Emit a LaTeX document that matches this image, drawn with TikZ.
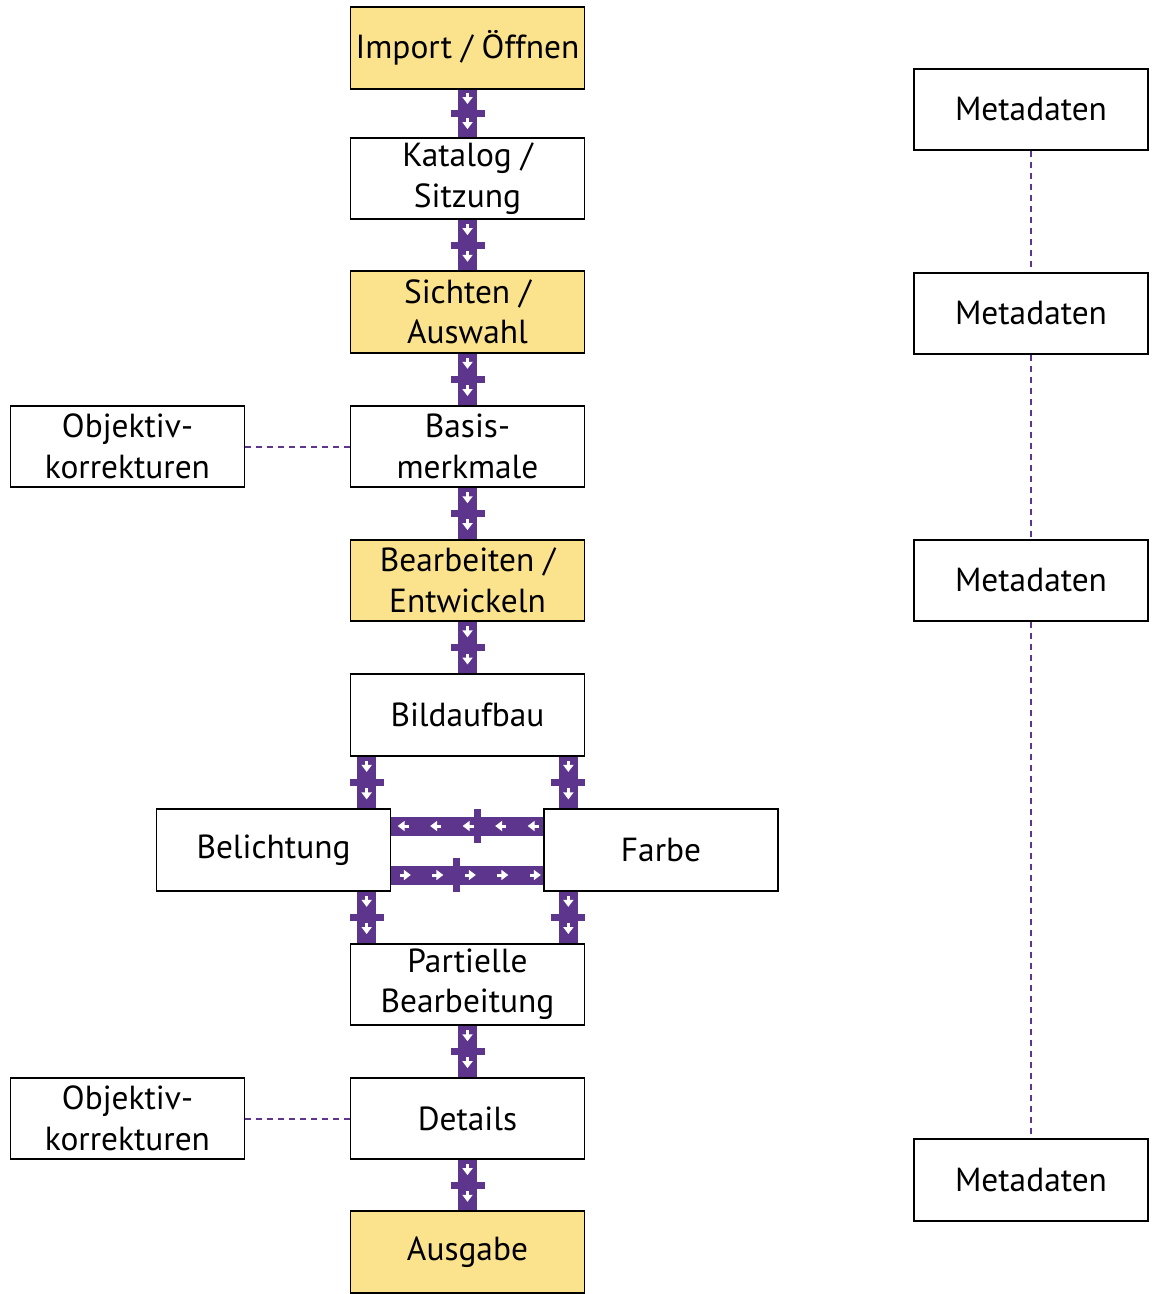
\documentclass[tikz,border=0pt]{standalone}
\usepackage{fontspec}
\setmainfont{PT Sans}
\usetikzlibrary{arrows.meta,decorations.markings}
\definecolor{flowpurple}{RGB}{94,53,140}
\definecolor{flowyellow}{RGB}{251,227,142}
\newcommand{\pipebar}{\fill[flowpurple] (-0.07cm,-0.34cm) rectangle (0.07cm,0.34cm);}
\newcommand{\flowtip}{\draw[white, line width=0.06cm, -{Triangle[length=0.14cm,width=0.2cm]}] (-0.11cm,0cm) -- (0.11cm,0cm);}
\tikzset{
  stepbox/.style={draw=black, line width=0.035cm, fill=white, minimum width=4.68cm, minimum height=1.63cm,
    align=center, inner sep=2pt, font=\fontsize{19}{23}\selectfont},
  mainbox/.style={stepbox, fill=flowyellow},
  pipe/.style={draw=flowpurple, line width=0.38cm,
    postaction={decorate, decoration={markings, mark=at position #1 with {\pipebar}}}},
  vpipe/.style={pipe=0.5,
    postaction={decorate, decoration={markings, mark=at position 0.19 with {\flowtip}, mark=at position 0.72 with {\flowtip}}}},
  hpipe/.style={pipe=1.31cm,
    postaction={decorate, decoration={markings, mark=between positions #1 and 2.95cm step 0.65cm with {\flowtip}}}},
  metaline/.style={draw=flowpurple, line width=0.04cm, dash pattern=on 0.12cm off 0.1cm},
}
\begin{document}
\begin{tikzpicture}[x=0.02cm, y=-0.02cm]
  \useasboundingbox (0,0) rectangle (1156,1294);
  \node[mainbox] (imp)   at (467.5,48)    {Import / Öffnen};
  \node[stepbox] (kat)   at (467.5,178.5) {Katalog /\\Sitzung};
  \node[mainbox] (sicht) at (467.5,312)   {Sichten /\\Auswahl};
  \node[stepbox] (basis) at (467.5,446.5) {Basis-\\merkmale};
  \node[mainbox] (bearb) at (467.5,580.5) {Bearbeiten /\\Entwickeln};
  \node[stepbox] (bild)  at (467.5,715)   {Bildaufbau};
  \node[stepbox] (bel)   at (273.5,850)   {Belichtung};
  \node[stepbox] (far)   at (661,850)     {Farbe};
  \node[stepbox] (part)  at (467.5,984.5) {Partielle\\Bearbeitung};
  \node[stepbox] (det)   at (467.5,1118.5) {Details};
  \node[mainbox] (aus)   at (467.5,1252)  {Ausgabe};
  \node[stepbox] (obja)  at (127.5,446.5) {Objektiv-\\korrekturen};
  \node[stepbox] (objb)  at (127.5,1118.5) {Objektiv-\\korrekturen};
  \node[stepbox] (metaa) at (1031,109.5)  {Metadaten};
  \node[stepbox] (metab) at (1031,313.5)  {Metadaten};
  \node[stepbox] (metac) at (1031,580.5)  {Metadaten};
  \node[stepbox] (metad) at (1031,1180)   {Metadaten};
  \draw[vpipe] (imp) -- (kat);
  \draw[vpipe] (kat) -- (sicht);
  \draw[vpipe] (sicht) -- (basis);
  \draw[vpipe] (basis) -- (bearb);
  \draw[vpipe] (bearb) -- (bild);
  \draw[vpipe] ([xshift=0.34cm]bild.south west) -- ([xshift=0.34cm]bild.south west |- bel.north);
  \draw[vpipe] ([xshift=-0.34cm]bild.south east) -- ([xshift=-0.34cm]bild.south east |- far.north);
  \draw[hpipe=0.2cm] ([yshift=0.48cm]far.west) -- ([yshift=0.48cm]far.west -| bel.east);
  \draw[hpipe=0.28cm] ([yshift=-0.5cm]bel.east) -- ([yshift=-0.5cm]bel.east -| far.west);
  \draw[vpipe] ([xshift=0.34cm]part.north west |- bel.south) -- ([xshift=0.34cm]part.north west);
  \draw[vpipe] ([xshift=-0.34cm]part.north east |- far.south) -- ([xshift=-0.34cm]part.north east);
  \draw[vpipe] (part) -- (det);
  \draw[vpipe] (det) -- (aus);
  \draw[metaline] (obja) -- (basis);
  \draw[metaline] (objb) -- (det);
  \draw[metaline] (metaa) -- (metab);
  \draw[metaline] (metab) -- (metac);
  \draw[metaline] (metac) -- (metad);
\end{tikzpicture}
\end{document}
